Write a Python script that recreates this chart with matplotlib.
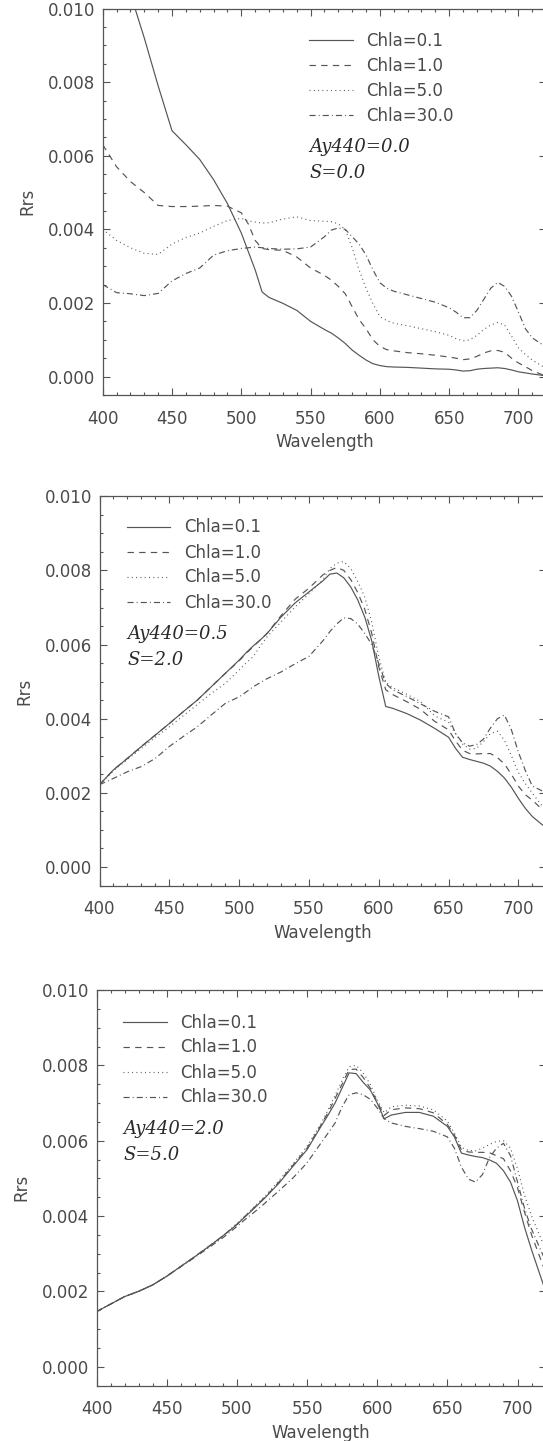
import matplotlib
matplotlib.use("Agg")
import matplotlib.pyplot as plt
from matplotlib.ticker import MultipleLocator, FormatStrFormatter

plt.rcParams["lines.scale_dashes"] = False
plt.rcParams["font.family"] = ["DejaVu Sans"]

# ---------------- data ----------------
wavelength = [400, 410, 420, 430, 440, 450, 460, 470, 480, 490, 500, 505, 510, 515, 520,
              530, 540, 550, 560, 565, 570, 575, 580, 585, 590, 595, 600, 605, 610, 620,
              630, 640, 650, 655, 660, 665, 670, 675, 680, 685, 690, 695, 700, 705, 710, 720]

chla_labels = ["Chla=0.1", "Chla=1.0", "Chla=5.0", "Chla=30.0"]
ay440_labels = ["Ay440=0.0", "Ay440=0.5", "Ay440=2.0"]
s_labels = ["S=0.0", "S=2.0", "S=5.0"]

# Panel 1: Ay440=0.0, S=0.0
p1_chla01 = [0.0128, 0.0116, 0.0104, 0.0092, 0.0079, 0.00668, 0.0063, 0.0059, 0.00535, 0.0047,
             0.0039, 0.0034, 0.0029, 0.0023, 0.00215, 0.00199, 0.0018, 0.0015, 0.00128, 0.00118,
             0.00105, 0.0009, 0.00072, 0.00058, 0.00045, 0.00035, 0.0003, 0.00027, 0.00026, 0.00025,
             0.00023, 0.00021, 0.0002, 0.00018, 0.00015, 0.00016, 0.0002, 0.00022, 0.00023, 0.00024,
             0.00022, 0.00018, 0.00013, 0.0001, 0.00007, 0.00002]
p1_chla1 = [0.0063, 0.0057, 0.0053, 0.0050, 0.00465, 0.00462, 0.00462, 0.00463, 0.00465, 0.00463,
            0.00445, 0.00415, 0.0037, 0.00348, 0.00345, 0.00343, 0.00325, 0.00295, 0.00275, 0.00262,
            0.00245, 0.00225, 0.0019, 0.00155, 0.0013, 0.001, 0.00082, 0.00073, 0.0007, 0.00065,
            0.00062, 0.00058, 0.00053, 0.0005, 0.00046, 0.00048, 0.00055, 0.00064, 0.0007, 0.00071,
            0.00066, 0.0005, 0.00037, 0.00027, 0.00016, 0.00001]
p1_chla5 = [0.0040, 0.0037, 0.0035, 0.00335, 0.00332, 0.0036, 0.00378, 0.0039, 0.00408, 0.00424,
            0.0043, 0.00423, 0.0042, 0.00417, 0.00418, 0.00428, 0.00434, 0.00424, 0.00422, 0.00421,
            0.00415, 0.004, 0.0035, 0.0029, 0.0024, 0.00198, 0.00163, 0.00152, 0.00145, 0.00138,
            0.0013, 0.00122, 0.00112, 0.00103, 0.00097, 0.001, 0.00112, 0.00128, 0.0014, 0.00147,
            0.0014, 0.0011, 0.00078, 0.0006, 0.00045, 0.00022]
p1_chla30 = [0.0025, 0.00228, 0.00225, 0.0022, 0.00226, 0.0026, 0.0028, 0.00295, 0.0033, 0.00342,
             0.00348, 0.0035, 0.00352, 0.0035, 0.00348, 0.00346, 0.00347, 0.00352, 0.0038, 0.00398,
             0.00404, 0.004, 0.0038, 0.0036, 0.0033, 0.0029, 0.00255, 0.0024, 0.00232, 0.00222,
             0.00212, 0.00202, 0.00187, 0.00175, 0.0016, 0.0016, 0.0018, 0.0021, 0.0024, 0.00256,
             0.00245, 0.00218, 0.00175, 0.0013, 0.00105, 0.0008]

# Panel 2: Ay440=0.5, S=2.0
p2_chla01 = [0.00222, 0.00262, 0.00293, 0.00325, 0.00356, 0.00387, 0.00419, 0.0045, 0.00486, 0.00522,
             0.00558, 0.00578, 0.00596, 0.00612, 0.0063, 0.00674, 0.00712, 0.00742, 0.00772, 0.0079,
             0.00793, 0.0078, 0.00755, 0.0072, 0.00674, 0.0061, 0.00515, 0.00433, 0.00428, 0.00414,
             0.00396, 0.00374, 0.0035, 0.0032, 0.00296, 0.0029, 0.00285, 0.0028, 0.00272, 0.00258,
             0.0024, 0.00215, 0.00185, 0.00158, 0.00136, 0.00105]
p2_chla1 = [0.00222, 0.00262, 0.00293, 0.00325, 0.00356, 0.00387, 0.00419, 0.0045, 0.00486, 0.00522,
            0.00556, 0.00576, 0.00594, 0.00612, 0.0063, 0.00678, 0.00722, 0.00752, 0.00788, 0.008,
            0.00808, 0.008, 0.00775, 0.0074, 0.00695, 0.0063, 0.0054, 0.00478, 0.00465, 0.00446,
            0.00425, 0.00393, 0.0037, 0.0034, 0.00315, 0.00306, 0.00305, 0.00306, 0.00306, 0.00295,
            0.00278, 0.0025, 0.00218, 0.00195, 0.0018, 0.00145]
p2_chla5 = [0.00222, 0.0026, 0.0029, 0.0032, 0.0035, 0.00378, 0.00408, 0.00438, 0.00468, 0.00495,
            0.00531, 0.0055, 0.00567, 0.00595, 0.00621, 0.00661, 0.00701, 0.00737, 0.00775, 0.00805,
            0.0082, 0.00824, 0.00805, 0.0077, 0.00728, 0.0066, 0.00567, 0.00498, 0.00484, 0.00466,
            0.00446, 0.00408, 0.0039, 0.0036, 0.00332, 0.00318, 0.0032, 0.00338, 0.0036, 0.00366,
            0.00342, 0.003, 0.00255, 0.00225, 0.00199, 0.0015]
p2_chla30 = [0.00222, 0.00239, 0.00257, 0.00271, 0.00293, 0.00325, 0.00352, 0.00378, 0.0041, 0.00441,
             0.00459, 0.00472, 0.00486, 0.00497, 0.00508, 0.00526, 0.00548, 0.00568, 0.0061, 0.00635,
             0.00656, 0.00672, 0.0067, 0.00655, 0.0063, 0.006, 0.00549, 0.00495, 0.00478, 0.0046,
             0.0044, 0.0042, 0.00405, 0.0036, 0.00335, 0.00326, 0.0033, 0.00345, 0.00375, 0.004,
             0.0041, 0.0037, 0.0031, 0.0026, 0.00218, 0.002]

# Panel 3: Ay440=2.0, S=5.0
p3_chla01 = [0.00146, 0.00166, 0.00186, 0.002, 0.00217, 0.0024, 0.00266, 0.00292, 0.00319, 0.00347,
             0.00377, 0.00395, 0.00412, 0.0043, 0.00448, 0.00487, 0.00532, 0.00576, 0.00638, 0.00668,
             0.007, 0.0074, 0.0078, 0.00778, 0.00755, 0.00735, 0.0070, 0.00658, 0.00668, 0.00675,
             0.00675, 0.00665, 0.00638, 0.0061, 0.00567, 0.00562, 0.00558, 0.00555, 0.00549, 0.0054,
             0.0052, 0.0049, 0.0044, 0.0037, 0.0031, 0.0020]
p3_chla1 = [0.00146, 0.00166, 0.00186, 0.002, 0.00217, 0.0024, 0.00266, 0.00292, 0.00319, 0.00347,
            0.00378, 0.00396, 0.00414, 0.00432, 0.0045, 0.0049, 0.00535, 0.0058, 0.00642, 0.00675,
            0.00712, 0.0075, 0.00789, 0.0079, 0.00768, 0.0074, 0.00703, 0.00667, 0.00682, 0.00687,
            0.00685, 0.00674, 0.00643, 0.00615, 0.00576, 0.0057, 0.00569, 0.00569, 0.00568, 0.0056,
            0.00552, 0.0052, 0.00475, 0.0041, 0.0035, 0.0025]
p3_chla5 = [0.00146, 0.00166, 0.00186, 0.002, 0.00217, 0.0024, 0.00266, 0.00292, 0.00319, 0.00347,
            0.0038, 0.00398, 0.00416, 0.00434, 0.00452, 0.00494, 0.00538, 0.00585, 0.00645, 0.00682,
            0.0072, 0.0076, 0.00796, 0.008, 0.0078, 0.0075, 0.00708, 0.00674, 0.0069, 0.00694,
            0.00692, 0.00682, 0.00652, 0.0062, 0.00582, 0.00574, 0.00573, 0.0058, 0.0059, 0.00598,
            0.006, 0.0058, 0.00525, 0.00455, 0.0040, 0.0031]
p3_chla30 = [0.00146, 0.00166, 0.00186, 0.002, 0.00217, 0.0024, 0.00265, 0.0029, 0.00316, 0.00342,
             0.00372, 0.00388, 0.00403, 0.00418, 0.00434, 0.00467, 0.00501, 0.00541, 0.00594, 0.0062,
             0.00647, 0.0069, 0.00722, 0.00727, 0.00722, 0.0071, 0.00687, 0.00658, 0.00647, 0.00638,
             0.00632, 0.00625, 0.0061, 0.0058, 0.0053, 0.00498, 0.0049, 0.0051, 0.00555, 0.0058,
             0.00593, 0.0056, 0.0049, 0.0042, 0.00365, 0.0028]

panels = [
    [p1_chla01, p1_chla1, p1_chla5, p1_chla30],
    [p2_chla01, p2_chla1, p2_chla5, p2_chla30],
    [p3_chla01, p3_chla1, p3_chla5, p3_chla30],
]

# ---------------- style ----------------
W, H = 543, 1441
fig = plt.figure(figsize=(W / 100, H / 100), dpi=100)

TXT = "#4a4a4a"
AXC = "#555555"
LNC = "#555555"
FS = 12

dash_styles = [
    dict(linestyle="-"),
    dict(linestyle=(0, (4.6, 3.8))),
    dict(linestyle=(0, (0.7, 2.4))),
    dict(linestyle=(0, (4.4, 2.2, 0.7, 2.2))),
]

# axes boxes in pixels: left, right, top, bottom
boxes = [
    (102.7, 546.2, 8.5, 395.0),
    (99.5, 546.3, 496.3, 885.5),
    (96.5, 545.6, 990.0, 1385.5),
]
# legend anchor (pixels): line start x, first row centre y
legend_pos = [
    (309.4, 41.7),
    (127.0, 528.5),
    (123.4, 1023.5),
]

for i, (series, box, lp) in enumerate(zip(panels, boxes, legend_pos)):
    L, R, T, B = box
    ax = fig.add_axes([L / W, 1 - B / H, (R - L) / W, (B - T) / H])
    handles = []
    for vals, lab, st in zip(series, chla_labels, dash_styles):
        h, = ax.plot(wavelength, vals, color=LNC, lw=0.85, label=lab, **st)
        handles.append(h)
    ax.set_xlim(400, 720)
    ax.set_ylim(-0.0005, 0.010)
    ax.xaxis.set_major_locator(MultipleLocator(50))
    ax.xaxis.set_minor_locator(MultipleLocator(10))
    ax.yaxis.set_major_locator(MultipleLocator(0.002))
    ax.yaxis.set_minor_locator(MultipleLocator(0.0005))
    ax.yaxis.set_major_formatter(FormatStrFormatter("%.3f"))
    ax.tick_params(which="both", direction="in", top=True, right=True, color=AXC,
                   width=0.8, labelcolor=TXT, labelsize=FS)
    ax.tick_params(which="major", length=5)
    ax.tick_params(which="minor", length=2.5)
    ax.tick_params(axis="x", which="major", pad=10.5)
    ax.tick_params(axis="y", which="major", pad=5.5)
    for sp in ax.spines.values():
        sp.set_color(AXC)
        sp.set_linewidth(0.9)
    ax.set_xlabel("Wavelength", fontsize=FS, color=TXT, labelpad=4)
    ax.set_ylabel("Rrs", fontsize=FS, color=TXT, labelpad=8)

    axh = B - T
    axw = R - L
    lx = (lp[0] - L) / axw
    top_row = lp[1] - 10.0
    ly = 1 - (top_row - T) / axh
    ax.legend(handles=handles, loc="upper left", bbox_to_anchor=(lx, ly),
              frameon=False, fontsize=FS, handlelength=2.6, handletextpad=0.8,
              labelspacing=0.42, borderpad=0, borderaxespad=0, labelcolor=TXT)
    row = 25.8
    for k, t in enumerate([ay440_labels[i], s_labels[i]]):
        yc = lp[1] + row * (4 + k) + 0.5
        ax.text(lx, 1 - (yc - T) / axh, t, transform=ax.transAxes, ha="left",
                va="center_baseline", fontsize=13, color="#2a2a2a",
                family="DejaVu Serif", style="italic")

fig.savefig("out.png", dpi=100)
